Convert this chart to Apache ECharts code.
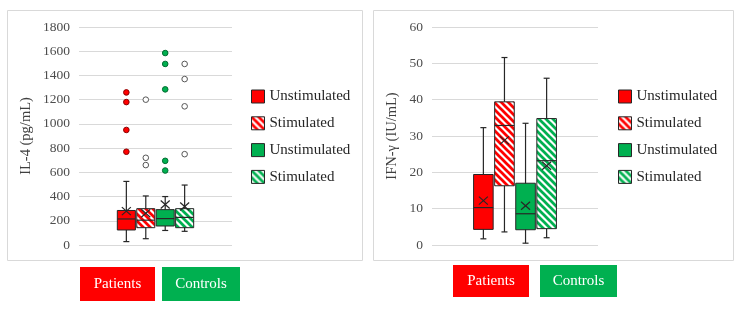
<!DOCTYPE html>
<html>
<head>
<meta charset="utf-8">
<script src="https://cdn.jsdelivr.net/npm/echarts@6/dist/echarts.min.js"></script>
<style>
html, body { margin: 0; background: #fff; }
#chart { width: 747px; height: 309px; }
</style>
</head>
<body>
<div id="chart"></div>
<script>
// series / groups
const seriesNames = ['Unstimulated', 'Stimulated', 'Unstimulated', 'Stimulated'];
const groupLabels = ['Patients', 'Controls'];

// box stats: [min, q1, median, q3, max, mean]
const il4Stats = [
    [28, 124, 215, 285, 525, 280],
    [52, 143, 205, 300, 405, 262],
    [120, 157, 218, 292, 400, 335],
    [113, 143, 228, 300, 495, 318]
];
const il4Outliers = [
    [1260, 1180, 950, 770],
    [1200, 720, 660],
    [1585, 1495, 1285, 695, 615],
    [1495, 1370, 1145, 750]
];
const ifnStats = [
    [1.7, 4.3, 10.3, 19.4, 32.3, 12.2],
    [3.6, 16.3, 32.9, 39.4, 51.6, 28.8],
    [0.5, 4.2, 8.6, 17.0, 33.5, 10.8],
    [2.0, 4.5, 23.2, 34.8, 45.9, 21.8]
];
const ifnOutliers = [[], [], [], []];

const RED = '#FF0000';
const GREEN = '#00B050';
const FONT = '"Liberation Serif", "DejaVu Serif", serif';

function stripes (color) {
    const s = 7;
    const c = document.createElement('canvas');
    c.width = s;
    c.height = s;
    const ctx = c.getContext('2d');
    ctx.fillStyle = '#fff';
    ctx.fillRect(0, 0, s, s);
    ctx.strokeStyle = color;
    ctx.lineWidth = 2.7;
    for (let k = -s; k <= s; k += s) {
        ctx.beginPath();
        ctx.moveTo(k - 1, -1);
        ctx.lineTo(k + s + 1, s + 1);
        ctx.stroke();
    }
    return { image: c, repeat: 'repeat' };
}

const fills = [RED, stripes(RED), GREEN, stripes(GREEN)];
const dotFills = [RED, '#fff', GREEN, '#fff'];
const dotStrokes = ['#8a0000', '#555', '#006b30', '#555'];
const legendNames = seriesNames.map((n, i) => (i < 2 ? 'P ' : 'C ') + n);

function boxRender (slot, stats, outliers) {
    return function (params, api) {
        const band = api.size([1, 0])[0];
        const base = api.coord([0, 0]);
        const cx = base[0] + (slot - 1.5) * band * 0.127;
        const w = band * 0.118;
        const y = v => api.coord([0, v])[1];
        const [mn, q1, md, q3, mx, mean] = stats;
        const line = { stroke: '#262626', lineWidth: 1.2 };
        const kids = [
            { type: 'line', shape: { x1: cx, y1: y(mn), x2: cx, y2: y(mx) }, style: line },
            { type: 'line', shape: { x1: cx - 3, y1: y(mn), x2: cx + 3, y2: y(mn) }, style: line },
            { type: 'line', shape: { x1: cx - 3, y1: y(mx), x2: cx + 3, y2: y(mx) }, style: line },
            {
                type: 'rect',
                shape: { x: cx - w / 2, y: y(q3), width: w, height: y(q1) - y(q3) },
                style: { fill: fills[slot], stroke: '#262626', lineWidth: 1 }
            },
            { type: 'line', shape: { x1: cx - w / 2, y1: y(md), x2: cx + w / 2, y2: y(md) }, style: line },
            { type: 'line', shape: { x1: cx - 4.5, y1: y(mean) - 4, x2: cx + 4.5, y2: y(mean) + 4 }, style: line },
            { type: 'line', shape: { x1: cx - 4.5, y1: y(mean) + 4, x2: cx + 4.5, y2: y(mean) - 4 }, style: line }
        ];
        outliers.forEach(v => {
            kids.push({
                type: 'circle',
                shape: { cx: cx, cy: y(v), r: 2.8 },
                style: { fill: dotFills[slot], stroke: dotStrokes[slot], lineWidth: 1 }
            });
        });
        return { type: 'group', children: kids };
    };
}

function buildSeries (gridIdx, statsList, outList) {
    return statsList.map((st, i) => ({
        type: 'custom',
        name: legendNames[i],
        xAxisIndex: gridIdx,
        yAxisIndex: gridIdx,
        itemStyle: { color: fills[i] },
        data: [[0, st[4]]],
        renderItem: boxRender(i, st, outList[i])
    }));
}

function yAx (gridIdx, max, interval, name, gap) {
    return {
        type: 'value',
        gridIndex: gridIdx,
        min: 0,
        max: max,
        interval: interval,
        name: name,
        nameLocation: 'middle',
        nameGap: gap,
        nameTextStyle: { fontFamily: FONT, fontSize: 14.5, color: '#404040' },
        axisLine: { show: false },
        axisTick: { show: false },
        axisLabel: { fontFamily: FONT, fontSize: 13.5, color: '#4d4d4d', margin: 9, formatter: v => String(v) },
        splitLine: { lineStyle: { color: '#d9d9d9', width: 1 } }
    };
}

function xAx (gridIdx) {
    return {
        type: 'category',
        gridIndex: gridIdx,
        data: [''],
        axisLine: { show: false },
        axisTick: { show: false },
        axisLabel: { show: false }
    };
}

function legend (left) {
    return {
        left: left,
        top: 84,
        orient: 'vertical',
        itemWidth: 13,
        itemHeight: 13,
        itemGap: 11.8,
        icon: 'rect',
        selectedMode: false,
        formatter: n => n.split(' ')[1],
        textStyle: { fontFamily: FONT, fontSize: 15, color: '#262626', lineHeight: 14 },
        data: legendNames.map((n, i) => ({
            name: n,
            itemStyle: { color: fills[i], borderColor: '#262626', borderWidth: 1 }
        }))
    };
}

function labelBox (x, y, w, h, text, color) {
    return {
        type: 'rect',
        shape: { x: x, y: y, width: w, height: h },
        style: { fill: color },
        textContent: { style: { text: text, fill: '#fff', font: '15px ' + FONT } },
        textConfig: { position: 'inside' }
    };
}

const chart = echarts.init(document.getElementById('chart'));
chart.setOption({
    animation: false,
    grid: [
        { left: 79, top: 27, width: 153, bottom: 64 },
        { left: 432, top: 27, width: 166, bottom: 64 }
    ],
    xAxis: [xAx(0), xAx(1)],
    yAxis: [yAx(0, 1800, 200, 'IL-4 (pg/mL)', 45), yAx(1, 60, 10, 'IFN-γ (IU/mL)', 32)],
    legend: [legend(246), legend(613)],
    graphic: [
        { type: 'rect', z: -10, shape: { x: 7.5, y: 10.5, width: 355, height: 250 }, style: { fill: 'none', stroke: '#d9d9d9' } },
        { type: 'rect', z: -10, shape: { x: 373.5, y: 10.5, width: 360, height: 250 }, style: { fill: 'none', stroke: '#d9d9d9' } },
        labelBox(80, 267, 75, 34, groupLabels[0], RED),
        labelBox(162, 267, 78, 34, groupLabels[1], GREEN),
        labelBox(453, 265, 76, 32, groupLabels[0], RED),
        labelBox(540, 265, 77, 32, groupLabels[1], GREEN)
    ],
    series: buildSeries(0, il4Stats, il4Outliers).concat(buildSeries(1, ifnStats, ifnOutliers))
});
</script>
</body>
</html>
